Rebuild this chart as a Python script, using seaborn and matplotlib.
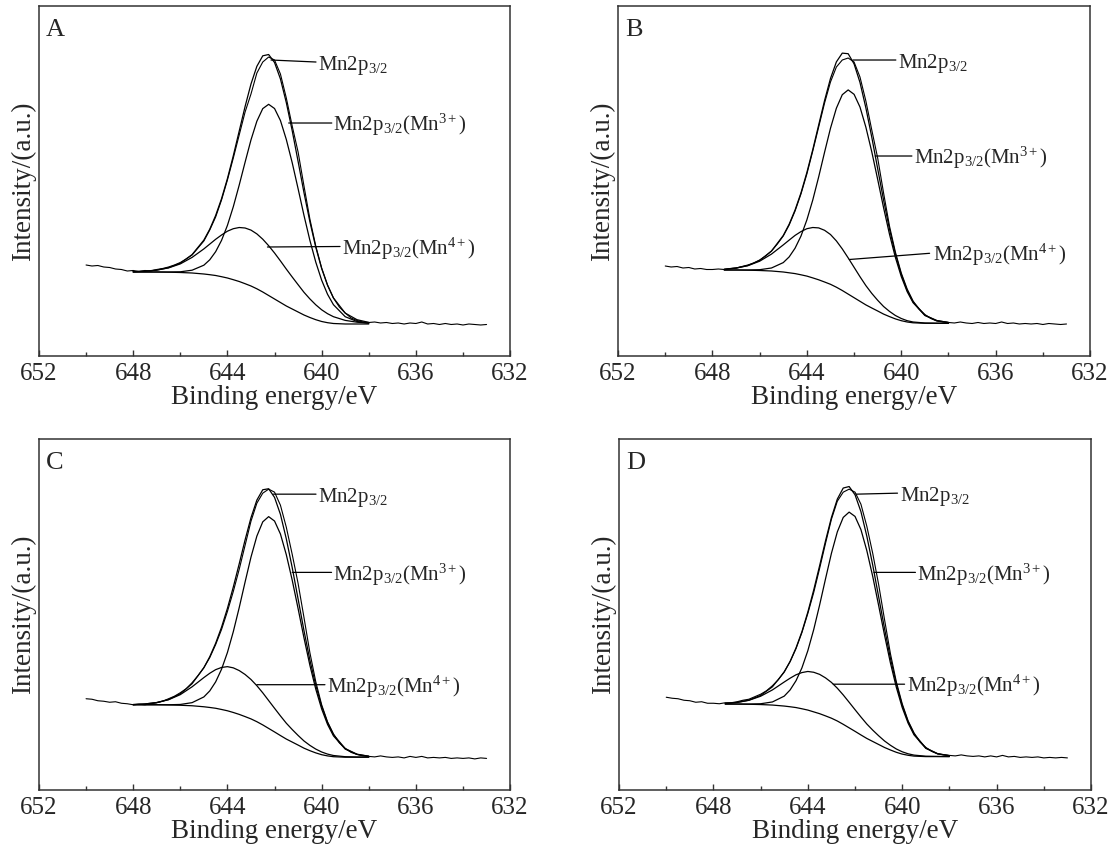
import matplotlib
matplotlib.use("Agg")
import matplotlib.pyplot as plt
from matplotlib.ticker import MultipleLocator
import pandas as pd
import seaborn as sns

# energy axis of the measured spectra (eV)
RAW_EV = [650, 649.75, 649.5, 649.25, 649, 648.75, 648.5, 648.25, 648,
          647.75, 647.5, 647.25, 647, 646.75, 646.5, 646.25, 646, 645.75, 645.5, 645.25, 645,
          644.75, 644.5, 644.25, 644, 643.75, 643.5, 643.25, 643, 642.75, 642.5, 642.25, 642,
          641.75, 641.5, 641.25, 641, 640.75, 640.5, 640.25, 640, 639.75, 639.5, 639.25, 639,
          638.75, 638.5, 638.25, 638,
          637.75, 637.5, 637.25, 637, 636.75, 636.5, 636.25, 636, 635.75, 635.5, 635.25, 635,
          634.75, 634.5, 634.25, 634, 633.75, 633.5, 633.25, 633]

# energy axis of the fitted curves (eV)
FIT_EV = [648, 647.5, 647, 646.5, 646, 645.5, 645, 644.75, 644.5, 644.25, 644, 643.75,
          643.5, 643.25, 643, 642.75, 642.5, 642.25, 642, 641.75, 641.5, 641.25, 641,
          640.75, 640.5, 640.25, 640, 639.75, 639.5, 639, 638.5, 638]

# ---- sample A ----
raw_a = [91, 90, 90.5, 89, 88.5, 87, 86.5, 85, 85.5,
         84.5, 85.5, 85, 86.5, 87.5, 89, 91, 93.5, 97, 101, 108, 115,
         126, 139, 156, 176, 198, 221, 244, 262, 283, 294, 299, 296,
         282, 258, 230, 204, 170, 137, 110, 88, 71, 58, 49, 43,
         38, 35.5, 34, 33.5,
         34, 33, 33.5, 32.5, 33, 32, 33, 32.5, 34, 32, 32.5, 31.5, 32.5, 31.5, 32, 31, 32, 31.5, 31, 31.5]
env_a = [84.3, 84.8, 85.9, 88.3, 92.8, 101.4, 115.9, 126.8, 140.5, 157.3, 177.4, 200.3,
         224.9, 249.5, 272.0, 289.7, 300.2, 301.5, 293.5, 277.1, 253.4, 225.3, 194.6,
         163.3, 134.3, 108.8, 87.5, 70.7, 58.1, 42.9, 36.3, 33.6]
mn3_a = [84, 84, 84, 84.0, 84.2, 85.8, 90.8, 96.2, 104.3, 115.6, 130.6, 149.3,
         170.9, 193.8, 216.1, 234.8, 247.4, 251.7, 247.5, 235.5, 216.5, 193.3, 167.3,
         140.6, 115.7, 93.9, 75.8, 61.7, 51.3, 39.3, 34.5, 32.8]
mn4_a = [84.3, 84.8, 85.9, 88.1, 92.1, 98.6, 107.1, 111.9, 116.7, 121.0, 124.8, 127.3,
         128.5, 128.0, 125.9, 122.1, 116.8, 110.3, 103.0, 95.1, 86.9, 79.0, 71.3,
         63.7, 57.1, 51.2, 46.2, 42.3, 39.3, 35.6, 33.8, 32.8]
bg_a = [84, 84, 84, 83.8, 83.5, 83, 82, 81.3, 80.5, 79.3, 78, 76.3,
        74.5, 72.3, 70, 67.2, 64, 60.5, 57, 53.5, 50, 47, 44,
        41, 38.5, 36.3, 34.5, 33.3, 32.5, 32, 32, 32]

# ---- sample B ----
raw_b = [90, 89, 89.5, 88, 88.5, 87, 87.5, 86.5, 86.5,
         87, 86.5, 87.5, 88, 89.5, 91, 93, 96, 100, 105, 112, 120,
         131, 145, 162, 182, 205, 229, 253, 274, 289, 296, 298, 294,
         279, 255, 226, 198, 163, 130, 104, 83, 67, 55, 47, 41.5,
         37.5, 35, 34, 33.5,
         33, 34, 33, 32.5, 33.5, 32.5, 33, 32.5, 34, 32.5, 33, 32, 32.5, 32, 32.5, 31.5, 32.5, 32, 31.5, 32]
env_b = [86.2, 86.7, 87.9, 90.5, 95.6, 104.9, 120.5, 131.8, 146.0, 163.1, 183.5, 206.4,
         231.0, 255.5, 277.5, 294.1, 302.9, 302.3, 292.1, 273.6, 248.1, 218.8, 187.3,
         155.9, 127.0, 102.0, 81.6, 65.6, 54.1, 40.8, 35.5, 33.5]
mn3_b = [86, 86, 86, 86.0, 86.3, 88.0, 93.4, 99.1, 107.8, 119.9, 136.1, 156.0,
         179.1, 203.8, 227.7, 247.8, 261.3, 266.1, 261.7, 249.0, 228.8, 204.2, 176.6,
         148.3, 121.8, 98.6, 79.4, 64.3, 53.3, 40.5, 35.4, 33.5]
mn4_b = [86.2, 86.7, 87.9, 90.3, 94.8, 101.9, 111.1, 115.9, 120.6, 124.4, 127.3, 128.5,
         128.1, 125.7, 121.5, 115.1, 107.1, 98.1, 88.7, 79.3, 70.4, 62.6, 55.7,
         49.5, 44.6, 40.5, 37.5, 35.3, 34.0, 33.0, 32.8, 32.7]
bg_b = [86, 86, 86, 85.8, 85.5, 85, 84, 83.2, 82.4, 81.2, 79.9, 78.1,
        76.2, 74, 71.7, 68.8, 65.5, 61.9, 58.3, 54.7, 51.1, 48, 45,
        41.9, 39.4, 37.1, 35.3, 34, 33.2, 32.7, 32.7, 32.7]

# ---- sample C ----
raw_c = [91, 90.5, 89, 88.5, 87.5, 88, 86.5, 86, 85,
         85.5, 85, 86, 87, 88.5, 91, 93.5, 97, 101, 107, 114, 122,
         132, 145, 160, 178, 198, 220, 244, 268, 286, 296, 300, 297,
         284, 262, 235, 206, 172, 137, 108, 85, 68, 56, 47, 41.5,
         37.5, 35.5, 34, 33.5,
         33, 34, 33, 32.5, 33, 32, 33.5, 32.5, 33.5, 32, 32.5, 32, 32.5, 31.5, 32, 31.5, 32, 31, 32, 31.5]
env_c = [85.2, 85.8, 87.2, 90.2, 95.9, 106.0, 121.9, 132.9, 146.3, 162.3, 181.1, 202.4,
         225.5, 249.4, 271.5, 289.1, 299.4, 300.4, 291.8, 274.9, 250.4, 221.8, 190.5,
         158.9, 129.7, 104.4, 83.5, 67.2, 55.2, 41.3, 35.7, 33.7]
mn3_c = [85, 85, 85, 85.0, 85.3, 87.1, 92.8, 98.8, 107.8, 120.4, 137.1, 157.9,
         181.8, 207.4, 232.2, 253.2, 267.4, 272.6, 268.2, 255.3, 234.6, 209.3, 180.9,
         151.7, 124.4, 100.6, 80.8, 65.4, 54.0, 40.8, 35.5, 33.6]
mn4_c = [85.2, 85.8, 87.2, 90.0, 95.1, 102.9, 112.1, 116.4, 120.0, 122.2, 123.0, 121.8,
         119.1, 115.2, 110.2, 104.0, 96.9, 89.2, 81.5, 73.9, 66.6, 60.3, 54.4,
         48.9, 44.5, 40.8, 37.9, 35.8, 34.4, 33.2, 32.9, 32.8]
bg_c = [85, 85, 85, 84.8, 84.5, 84, 83, 82.3, 81.5, 80.3, 79, 77.3,
        75.4, 73.2, 70.9, 68.1, 64.9, 61.4, 57.9, 54.3, 50.8, 47.8, 44.8,
        41.7, 39.2, 37, 35.2, 34, 33.2, 32.7, 32.7, 32.7]

# ---- sample D ----
raw_d = [92.5, 91.5, 91, 89.5, 89, 87.5, 88, 86.5, 86.5,
         86, 87, 87, 88, 89.5, 90.5, 93, 95.5, 99, 104, 110, 118,
         128, 141, 157, 176, 197, 221, 246, 270, 288, 297, 300, 297,
         285, 263, 236, 205, 170, 136, 108, 86, 69, 57, 48, 42.5,
         38.5, 36, 35, 34.5,
         34, 35, 34, 33.5, 34, 33, 34, 33, 34.5, 33, 33.5, 32.5, 33, 32.5, 33, 32, 32.5, 32, 32.5, 32]
env_d = [85.9, 86.3, 87.3, 89.6, 94.3, 102.9, 117.6, 128.3, 141.7, 157.9, 177.4, 199.5,
         223.7, 248.5, 271.7, 290.1, 301.1, 302.6, 294.4, 277.6, 253.1, 224.3, 192.8,
         161.0, 131.4, 105.7, 84.5, 68.1, 56.0, 41.9, 36.25, 34.25]
mn3_d = [85.7, 85.7, 85.7, 85.7, 86.0, 87.8, 93.6, 99.8, 109.0, 121.8, 138.9, 160.0,
         184.5, 210.6, 236.0, 257.4, 271.8, 277.1, 272.8, 259.7, 238.7, 213.0, 184.1,
         154.5, 126.7, 102.4, 82.2, 66.6, 55.0, 41.5, 36.1, 34.2]
mn4_d = [85.9, 86.3, 87.3, 89.4, 93.5, 99.8, 107.7, 111.5, 114.9, 117.1, 118.2, 117.4,
         115.3, 111.8, 107.3, 101.5, 94.8, 87.5, 80.1, 72.8, 65.8, 59.7, 54.1,
         48.9, 44.6, 40.9, 38.1, 36.1, 34.8, 33.7, 33.5, 33.4]
bg_d = [85.7, 85.7, 85.7, 85.5, 85.2, 84.7, 83.7, 83, 82.2, 81, 79.7, 77.9,
        76.1, 73.9, 71.6, 68.8, 65.5, 62, 58.5, 54.9, 51.4, 48.4, 45.4,
        42.4, 39.9, 37.6, 35.8, 34.6, 33.8, 33.3, 33.3, 33.3]

LBL_MAIN = r"Mn2p$_{\mathrm{3/2}}$"
LBL_MN3 = r"Mn2p$_{\mathrm{3/2}}$(Mn$^{\mathrm{3+}}$)"
LBL_MN4 = r"Mn2p$_{\mathrm{3/2}}$(Mn$^{\mathrm{4+}}$)"

# layout: axes rectangle, first fitted point, leader lines (curve point, line end, text anchor)
PANELS = [
    dict(name="A", rect=[0.0349, 0.5802, 0.4222, 0.4127], fit0=0,
         raw=raw_a, curves=[env_a, mn3_a, mn4_a, bg_a],
         notes=[(LBL_MAIN, (642.15, 296), (640.24, 294), (640.15, 286)),
                (LBL_MN3, (641.4, 233), (639.57, 233), (639.52, 225)),
                (LBL_MN4, (642.3, 109), (639.22, 109.5), (639.13, 101.5))]),
    dict(name="B", rect=[0.5538, 0.5802, 0.4230, 0.4127], fit0=1,
         raw=raw_b, curves=[env_b, mn3_b, mn4_b, bg_b],
         notes=[(LBL_MAIN, (642.05, 296), (640.23, 296), (640.16, 288)),
                (LBL_MN3, (641.1, 200), (639.55, 200), (639.47, 192)),
                (LBL_MN4, (642.2, 96.5), (638.80, 102.7), (638.64, 94.7))]),
    dict(name="C", rect=[0.0349, 0.0684, 0.4222, 0.4139], fit0=0,
         raw=raw_c, curves=[env_c, mn3_c, mn4_c, bg_c],
         notes=[(LBL_MAIN, (642.05, 295), (640.24, 295), (640.15, 287)),
                (LBL_MN3, (641.25, 217), (639.58, 217), (639.5, 209)),
                (LBL_MN4, (642.75, 105), (639.86, 105), (639.78, 97))]),
    dict(name="D", rect=[0.5547, 0.0684, 0.4229, 0.4139], fit0=1,
         raw=raw_d, curves=[env_d, mn3_d, mn4_d, bg_d],
         notes=[(LBL_MAIN, (641.95, 295), (640.2, 296), (640.1, 288)),
                (LBL_MN3, (641.2, 217), (639.44, 217), (639.36, 209)),
                (LBL_MN4, (642.92, 105.5), (639.9, 105.5), (639.78, 97.5))]),
]

sns.set_theme(style="ticks")
plt.rcParams["font.family"] = ["Liberation Serif", "DejaVu Serif"]
plt.rcParams["mathtext.fontset"] = "custom"
plt.rcParams["mathtext.rm"] = "Liberation Serif"
plt.rcParams["mathtext.it"] = "Liberation Serif:italic"
plt.rcParams["mathtext.bf"] = "Liberation Serif:bold"

fig = plt.figure(figsize=(11.16, 8.48), dpi=100)

for p in PANELS:
    ax = fig.add_axes(p["rect"])
    raw_df = pd.DataFrame({"ev": RAW_EV, "counts": p["raw"]})
    sns.lineplot(data=raw_df, x="ev", y="counts", ax=ax, color="black", lw=0.8,
                 sort=False, estimator=None)
    k = p["fit0"]
    for curve in p["curves"]:
        fit_df = pd.DataFrame({"ev": FIT_EV[k:], "counts": curve[k:]})
        sns.lineplot(data=fit_df, x="ev", y="counts", ax=ax, color="black", lw=0.9,
                     sort=False, estimator=None)

    for label, xy, end, txt in p["notes"]:
        ax.annotate("", xy=xy, xytext=end,
                    arrowprops=dict(arrowstyle="-", lw=0.9, color="black",
                                    shrinkA=0, shrinkB=0))
        ax.text(txt[0], txt[1], label, fontsize=15, ha="left", va="baseline")

    ax.text(0.015, 0.915, p["name"], transform=ax.transAxes, fontsize=19,
            ha="left", va="baseline")

    ax.set_xlim(652, 632)
    ax.set_ylim(0, 350)
    ax.xaxis.set_major_locator(MultipleLocator(4))
    ax.xaxis.set_minor_locator(MultipleLocator(2))
    ax.set_yticks([])
    ax.tick_params(axis="x", which="major", direction="in", length=4, width=1,
                   labelsize=18, pad=5, color="#333333")
    ax.tick_params(axis="x", which="minor", direction="in", length=3, width=1,
                   color="#333333")
    for sp in ax.spines.values():
        sp.set_visible(True)
        sp.set_color("#333333")
        sp.set_linewidth(1.1)
    ax.set_xlabel("Binding energy/eV", fontsize=19.5, labelpad=0)
    ax.set_ylabel("Intensity/(a.u.)", fontsize=19.5)
    ax.yaxis.set_label_coords(-0.006, 0.5)

fig.savefig("out.png", dpi=100)
